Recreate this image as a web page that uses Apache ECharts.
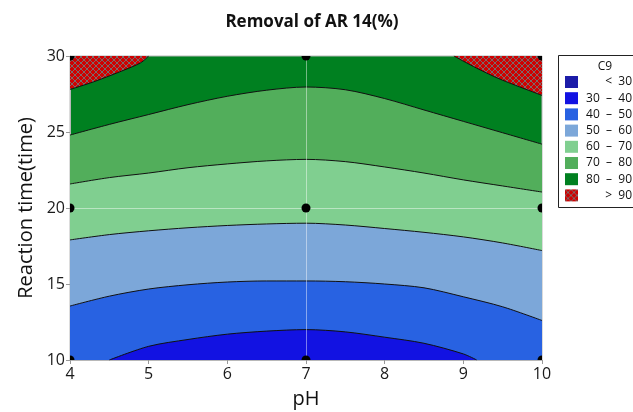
<!DOCTYPE html>
<html>
<head>
<meta charset="utf-8">
<script src="https://cdn.jsdelivr.net/npm/echarts@6/dist/echarts.min.js"></script>
<style>
  html, body { margin: 0; padding: 0; background: #fff; }
  #main { width: 633px; height: 412px; }
</style>
</head>
<body>
<div id="main"></div>
<script>
// contour boundaries (pH -> reaction time)
const phSteps = [4, 4.5, 5, 5.5, 6, 6.5, 7, 7.5, 8, 8.5, 9, 9.5, 10];
const level50 = [13.55, 14.2, 14.67, 14.95, 15.13, 15.2, 15.2, 15.15, 15.0, 14.75, 14.16, 13.5, 12.6];
const level60 = [17.9, 18.25, 18.5, 18.7, 18.85, 18.95, 19.0, 18.88, 18.65, 18.4, 18.1, 17.7, 17.2];
const level70 = [21.58, 22.0, 22.3, 22.65, 22.9, 23.1, 23.2, 23.05, 22.7, 22.3, 21.85, 21.45, 21.05];
const level80 = [24.8, 25.5, 26.15, 26.8, 27.35, 27.75, 27.96, 27.78, 27.2, 26.45, 25.7, 24.95, 24.2];

const level40Ph = [4.5, 5, 5.5, 6, 6.5, 7, 7.5, 8, 8.5, 9, 9.17];
const level40 = [10, 10.9, 11.35, 11.7, 11.9, 12.0, 11.85, 11.5, 11.1, 10.4, 10];

const level90LeftPh = [4, 4.3, 4.7, 4.9, 5.0];
const level90Left = [27.8, 28.3, 29.1, 29.56, 30];
const level90RightPh = [8.88, 9.17, 9.47, 10];
const level90Right = [30, 29.2, 28.47, 27.41];

// design points
const pointPh = [4, 7, 10, 4, 7, 10, 4, 7, 10];
const pointTime = [10, 10, 10, 20, 20, 20, 30, 30, 30];

const legendLabels = ['<  30', '30  \u2013  40', '40  \u2013  50', '50  \u2013  60', '60  \u2013  70', '70  \u2013  80', '80  \u2013  90', '>  90'];
const bandColors = ['#1c1ca8', '#1212e2', '#2862e2', '#7ca7d9', '#80cf90', '#52ae5b', '#008020', '#cc0000'];

function zip(xs, ys) {
  return xs.map((x, i) => [x, ys[i]]);
}

// red cross-hatch for the > 90 region
function hatch() {
  const c = document.createElement('canvas');
  c.width = 6; c.height = 6;
  const g = c.getContext('2d');
  g.fillStyle = '#d00000';
  g.fillRect(0, 0, 6, 6);
  g.strokeStyle = '#7a6a6a';
  g.lineWidth = 1;
  g.beginPath();
  g.moveTo(0, 0); g.lineTo(6, 6);
  g.moveTo(6, 0); g.lineTo(0, 6);
  g.stroke();
  return { image: c, repeat: 'repeat' };
}
const redFill = hatch();

function band(data, fill, origin) {
  return {
    type: 'line',
    data: data,
    smooth: 0.3,
    symbol: 'none',
    silent: true,
    lineStyle: { color: '#111', width: 1 },
    areaStyle: { color: fill, opacity: 1, origin: origin || 'start' }
  };
}

const font = 'Open Sans';
const legendItems = [];
legendLabels.forEach((lab, i) => {
  const y = 82 + i * 16.2;
  legendItems.push({
    type: 'rect', left: 565, top: y - 6,
    shape: { width: 13, height: 12 },
    style: { fill: i === 7 ? redFill : bandColors[i] }
  });
  legendItems.push({
    type: 'text', x: 632, y: y,
    style: { text: lab, fill: '#111', font: '12px "' + font + '"', textAlign: 'right', textVerticalAlign: 'middle' }
  });
});

const option = {
  animation: false,
  title: {
    text: 'Removal of AR 14(%)',
    left: 307, top: 9, textAlign: 'center',
    textStyle: { fontFamily: font, fontSize: 17, fontWeight: 'bold', color: '#111' }
  },
  grid: {
    left: 70, right: 91, top: 56, bottom: 52,
    outerBoundsMode: 'none',
    show: true, backgroundColor: bandColors[6], borderColor: '#b8b8b8', borderWidth: 1
  },
  xAxis: {
    type: 'value', min: 4, max: 10, interval: 1,
    name: 'pH', nameLocation: 'middle', nameGap: 29,
    nameTextStyle: { fontFamily: font, fontSize: 20, color: '#111' },
    axisLine: { show: true, lineStyle: { color: '#b8b8b8' } },
    axisTick: { show: true, length: 4, lineStyle: { color: '#999' } },
    axisLabel: { fontFamily: font, fontSize: 16, color: '#1a1a1a', margin: 6 },
    splitLine: { show: false }
  },
  yAxis: {
    type: 'value', min: 10, max: 30, interval: 5,
    name: 'Reaction time(time)', nameLocation: 'middle', nameGap: 34,
    nameTextStyle: { fontFamily: font, fontSize: 20, color: '#111' },
    axisLine: { show: true, lineStyle: { color: '#b8b8b8' } },
    axisTick: { show: true, length: 4, lineStyle: { color: '#999' } },
    axisLabel: { fontFamily: font, fontSize: 16, color: '#1a1a1a', margin: 5 },
    splitLine: { show: false }
  },
  series: [
    band(zip(level90LeftPh, level90Left), redFill, 'end'),
    band(zip(level90RightPh, level90Right), redFill, 'end'),
    band(zip(phSteps, level80), bandColors[5]),
    band(zip(phSteps, level70), bandColors[4]),
    band(zip(phSteps, level60), bandColors[3]),
    band(zip(phSteps, level50), bandColors[2]),
    band(zip(level40Ph, level40), bandColors[1]),
    {
      type: 'line',
      data: [],
      silent: true,
      markLine: {
        silent: true,
        symbol: 'none',
        label: { show: false },
        lineStyle: { color: 'rgba(255,255,255,0.45)', width: 1, type: 'solid' },
        data: [{ xAxis: 7 }, { yAxis: 20 }]
      }
    },
    {
      type: 'custom',
      data: zip(pointPh, pointTime),
      clip: true,
      silent: true,
      z: 5,
      renderItem: function(params, api) {
        const p = api.coord([api.value(0), api.value(1)]);
        return { type: 'circle', shape: { cx: p[0], cy: p[1], r: 4.5 }, style: { fill: '#000' } };
      }
    }
  ],
  graphic: [
    {
      type: 'rect', left: 558, top: 55,
      shape: { width: 80, height: 152 },
      style: { fill: '#fff', stroke: '#222', lineWidth: 1 }
    },
    {
      type: 'text', x: 605, y: 67,
      style: { text: 'C9', fill: '#111', font: '12px "' + font + '"', textAlign: 'center', textVerticalAlign: 'middle' }
    }
  ].concat(legendItems)
};

const chart = echarts.init(document.getElementById('main'));
chart.setOption(option);
window.onresize = function() {
  chart.resize();
};
</script>
</body>
</html>
